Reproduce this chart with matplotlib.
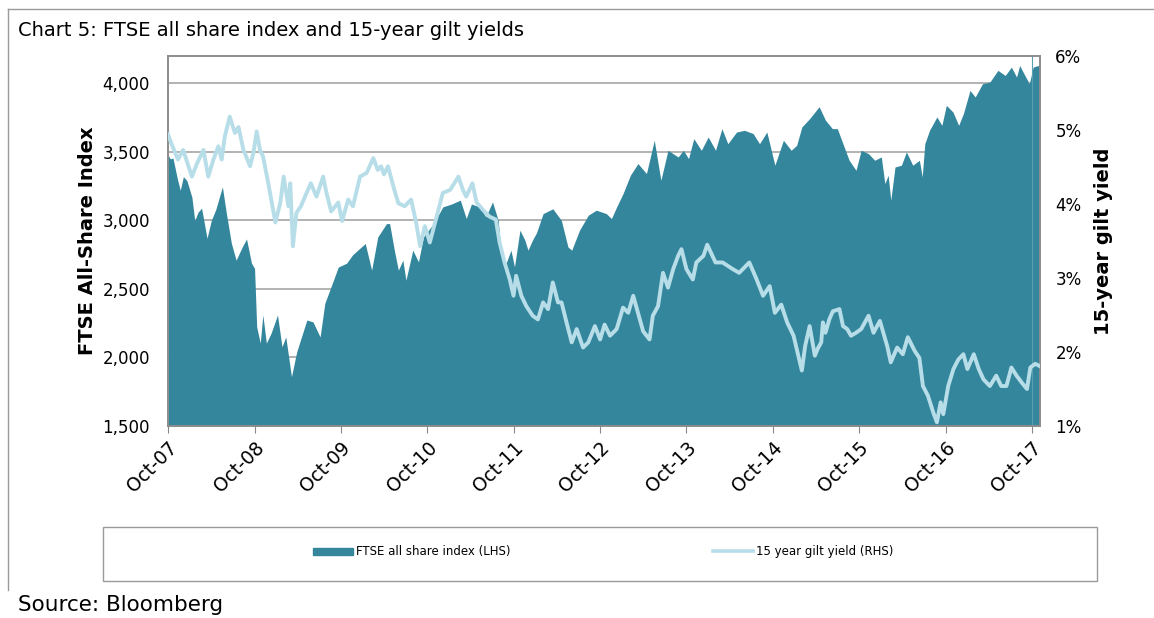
import pandas as pd
import matplotlib
matplotlib.use("Agg")
import matplotlib.pyplot as plt
import matplotlib.dates as mdates
from matplotlib.lines import Line2D
from matplotlib.patches import Patch, Rectangle

# FTSE all-share index (LHS)
ftse_dates = [
    "2007-10-01", "2007-10-10", "2007-10-22", "2007-11-10", "2007-11-22", "2007-12-05",
    "2007-12-20", "2008-01-10", "2008-01-22", "2008-02-05", "2008-02-20", "2008-03-14",
    "2008-04-01", "2008-04-20", "2008-05-18", "2008-06-04", "2008-06-25", "2008-07-15",
    "2008-08-10", "2008-08-28", "2008-09-18", "2008-10-01", "2008-10-10", "2008-10-25",
    "2008-11-05", "2008-11-20", "2008-12-10", "2009-01-06", "2009-01-25", "2009-02-10",
    "2009-03-06", "2009-03-28", "2009-05-10", "2009-06-05", "2009-07-05", "2009-07-25",
    "2009-08-20", "2009-09-20", "2009-10-25", "2009-11-20", "2010-01-12", "2010-02-08",
    "2010-03-06", "2010-04-12", "2010-04-25", "2010-05-15", "2010-06-01", "2010-06-20",
    "2010-07-03", "2010-08-01", "2010-08-25", "2010-09-15", "2010-10-28", "2010-12-06",
    "2011-01-12", "2011-02-18", "2011-03-15", "2011-04-06", "2011-05-10", "2011-06-06",
    "2011-07-04", "2011-07-28", "2011-08-09", "2011-08-30", "2011-09-20", "2011-10-05",
    "2011-10-28", "2011-11-18", "2011-12-01", "2011-12-20", "2012-01-06", "2012-02-03",
    "2012-03-15", "2012-04-20", "2012-05-18", "2012-06-03", "2012-07-06", "2012-08-12",
    "2012-09-15", "2012-10-27", "2012-11-18", "2012-12-10", "2013-01-06", "2013-02-06",
    "2013-03-10", "2013-04-15", "2013-05-18", "2013-06-15", "2013-07-15", "2013-08-27",
    "2013-09-18", "2013-10-10", "2013-11-01", "2013-12-03", "2014-01-01", "2014-02-01",
    "2014-02-28", "2014-03-25", "2014-05-01", "2014-06-03", "2014-07-10", "2014-08-06",
    "2014-09-06", "2014-10-10", "2014-11-15", "2014-12-18", "2015-01-10", "2015-02-01",
    "2015-03-06", "2015-04-15", "2015-05-12", "2015-06-10", "2015-07-01", "2015-08-20",
    "2015-09-18", "2015-10-10", "2015-11-10", "2015-12-06", "2016-01-03", "2016-01-18",
    "2016-02-01", "2016-02-12", "2016-03-01", "2016-03-28", "2016-04-18", "2016-05-15",
    "2016-06-12", "2016-06-24", "2016-07-05", "2016-07-25", "2016-08-25", "2016-09-15",
    "2016-10-04", "2016-11-01", "2016-11-25", "2016-12-15", "2017-01-12", "2017-02-03",
    "2017-03-06", "2017-04-06", "2017-05-10", "2017-06-10", "2017-07-06", "2017-07-28",
    "2017-08-10", "2017-09-01", "2017-09-20", "2017-10-06", "2017-10-28", "2017-11-03",
]
ftse_values = [
    3480, 3450, 3455, 3300, 3220, 3320,
    3290, 3170, 3000, 3060, 3090, 2870,
    3000, 3080, 3245, 3050, 2833, 2710,
    2807, 2865, 2688, 2650, 2224, 2105,
    2310, 2105, 2178, 2310, 2078, 2150,
    1860, 2040, 2273, 2260, 2150, 2395,
    2515, 2660, 2688, 2750, 2832, 2637,
    2880, 2977, 2977, 2783, 2637, 2710,
    2564, 2783, 2698, 2880, 2977, 3099,
    3120, 3148, 3014, 3120, 3099, 3026,
    3135, 3001, 2783, 2686, 2783, 2661,
    2929, 2856, 2783, 2856, 2910, 3050,
    3085, 3001, 2807, 2783, 2929, 3038,
    3075, 3050, 3014, 3099, 3196, 3330,
    3415, 3342, 3585, 3293, 3512, 3463,
    3512, 3451, 3597, 3512, 3609, 3512,
    3670, 3560, 3645, 3658, 3634, 3560,
    3645, 3403, 3585, 3512, 3548, 3682,
    3743, 3830, 3731, 3670, 3670, 3439,
    3366, 3512, 3487, 3439, 3463, 3269,
    3330, 3148, 3390, 3403, 3500, 3403,
    3439, 3318, 3560, 3658, 3755, 3694,
    3840, 3791, 3694, 3779, 3949, 3901,
    3998, 4010, 4095, 4058, 4119, 4046,
    4131, 4058, 3998, 4119, 4131, 4095,
]

# 15 year gilt yield (RHS), %
gilt_dates = [
    "2007-10-01", "2007-10-15", "2007-11-12", "2007-12-04", "2008-01-10", "2008-02-01",
    "2008-02-28", "2008-03-19", "2008-04-10", "2008-05-01", "2008-05-15", "2008-05-28",
    "2008-06-18", "2008-07-10", "2008-07-25", "2008-08-15", "2008-09-12", "2008-09-26",
    "2008-10-10", "2008-10-24", "2008-11-06", "2008-11-28", "2008-12-28", "2009-01-18",
    "2009-02-01", "2009-02-21", "2009-03-01", "2009-03-12", "2009-03-27", "2009-04-15",
    "2009-05-09", "2009-05-27", "2009-06-20", "2009-07-18", "2009-08-01", "2009-08-21",
    "2009-09-20", "2009-10-06", "2009-11-01", "2009-11-21", "2009-12-21", "2010-01-18",
    "2010-02-15", "2010-03-06", "2010-03-20", "2010-04-01", "2010-04-18", "2010-05-15",
    "2010-06-01", "2010-06-28", "2010-07-25", "2010-08-15", "2010-09-01", "2010-09-21",
    "2010-10-12", "2010-11-10", "2010-12-06", "2011-01-06", "2011-02-10", "2011-03-01",
    "2011-03-15", "2011-04-10", "2011-04-28", "2011-05-25", "2011-06-21", "2011-07-18",
    "2011-08-03", "2011-08-24", "2011-09-15", "2011-10-01", "2011-10-12", "2011-11-03",
    "2011-11-24", "2011-12-21", "2012-01-12", "2012-02-03", "2012-02-24", "2012-03-15",
    "2012-04-06", "2012-04-21", "2012-05-12", "2012-06-03", "2012-06-24", "2012-07-21",
    "2012-08-12", "2012-09-09", "2012-10-01", "2012-10-20", "2012-11-12", "2012-12-10",
    "2013-01-06", "2013-01-28", "2013-02-18", "2013-03-10", "2013-04-01", "2013-04-28",
    "2013-05-12", "2013-06-03", "2013-06-24", "2013-07-15", "2013-08-06", "2013-08-27",
    "2013-09-10", "2013-10-01", "2013-10-28", "2013-11-12", "2013-12-12", "2013-12-28",
    "2014-02-01", "2014-03-03", "2014-04-15", "2014-05-12", "2014-06-24", "2014-07-25",
    "2014-08-21", "2014-09-18", "2014-10-10", "2014-11-06", "2014-12-01", "2014-12-28",
    "2015-02-01", "2015-02-15", "2015-03-06", "2015-03-28", "2015-04-10", "2015-04-24",
    "2015-05-01", "2015-05-12", "2015-05-28", "2015-06-12", "2015-07-10", "2015-07-25",
    "2015-08-12", "2015-08-28", "2015-09-18", "2015-10-10", "2015-11-10", "2015-12-01",
    "2015-12-28", "2016-01-28", "2016-02-12", "2016-03-10", "2016-04-03", "2016-04-24",
    "2016-05-24", "2016-06-12", "2016-06-27", "2016-07-18", "2016-08-10", "2016-08-25",
    "2016-09-10", "2016-09-21", "2016-10-12", "2016-11-03", "2016-11-24", "2016-12-15",
    "2017-01-01", "2017-01-28", "2017-02-18", "2017-03-10", "2017-04-06", "2017-05-03",
    "2017-05-24", "2017-06-15", "2017-07-06", "2017-07-28", "2017-08-18", "2017-09-10",
    "2017-09-24", "2017-10-15", "2017-11-03",
]
gilt_values = [
    4.94, 4.82, 4.60, 4.73, 4.37, 4.55,
    4.73, 4.37, 4.60, 4.78, 4.60, 4.91,
    5.18, 4.96, 5.04, 4.73, 4.51, 4.69,
    4.98, 4.73, 4.64, 4.28, 3.75, 4.02,
    4.37, 3.97, 4.28, 3.43, 3.88, 3.97,
    4.15, 4.28, 4.10, 4.37, 4.15, 3.90,
    4.02, 3.77, 4.06, 3.97, 4.37, 4.42,
    4.62, 4.46, 4.51, 4.40, 4.51, 4.19,
    4.01, 3.97, 4.06, 3.75, 3.43, 3.70,
    3.48, 3.83, 4.15, 4.19, 4.37, 4.19,
    4.10, 4.28, 4.02, 3.92, 3.83, 3.79,
    3.48, 3.21, 2.98, 2.76, 3.03, 2.76,
    2.62, 2.49, 2.44, 2.67, 2.58, 2.94,
    2.67, 2.67, 2.40, 2.13, 2.31, 2.06,
    2.13, 2.35, 2.17, 2.37, 2.22, 2.31,
    2.60, 2.53, 2.76, 2.53, 2.28, 2.17,
    2.49, 2.62, 3.07, 2.87, 3.12, 3.30,
    3.39, 3.12, 2.98, 3.21, 3.30, 3.45,
    3.21, 3.21, 3.12, 3.07, 3.21, 2.98,
    2.76, 2.89, 2.53, 2.64, 2.40, 2.22,
    1.75, 2.08, 2.35, 1.95, 2.05, 2.13,
    2.40, 2.26, 2.44, 2.55, 2.58, 2.35,
    2.31, 2.22, 2.26, 2.31, 2.49, 2.26,
    2.42, 2.08, 1.86, 2.06, 1.97, 2.20,
    2.01, 1.92, 1.54, 1.41, 1.18, 1.05,
    1.32, 1.16, 1.54, 1.77, 1.90, 1.97,
    1.77, 1.97, 1.77, 1.63, 1.54, 1.68,
    1.54, 1.54, 1.79, 1.68, 1.59, 1.50,
    1.79, 1.84, 1.81,
]

tick_years = list(range(2007, 2018))

FTSE_COLOR = "#33869C"
GILT_COLOR = "#B7DEE8"
GRID_COLOR = "#A6A6A6"

plt.rcParams["font.family"] = ["DejaVu Sans"]

fig = plt.figure(figsize=(11.54, 6.18), dpi=100)
W, H = 1154, 618
ax = fig.add_axes([168 / W, 1 - 426 / H, (1040 - 168) / W, (426 - 56) / H])

fd = pd.to_datetime(ftse_dates)
gd = pd.to_datetime(gilt_dates)

ax.fill_between(fd, 1500, ftse_values, color=FTSE_COLOR, lw=0, zorder=2)
ax.set_ylim(1500, 4200)
ax.set_yticks([1500, 2000, 2500, 3000, 3500, 4000])
ax.yaxis.set_major_formatter(plt.FuncFormatter(lambda v, p: f"{int(v):,}"))
ax.grid(axis="y", color=GRID_COLOR, lw=1.2, zorder=1)
ax.set_axisbelow(True)
ax.set_xlim(pd.Timestamp("2007-10-01"), pd.Timestamp("2017-11-04"))
ax.set_xticks([pd.Timestamp(f"{y}-10-01") for y in tick_years])
ax.xaxis.set_major_formatter(mdates.DateFormatter("%b-%y"))
ax.tick_params(axis="x", length=5, color="#888888", labelsize=13.5, pad=4)
ax.tick_params(axis="y", length=0, labelsize=12, pad=13)
for lbl in ax.get_xticklabels():
    lbl.set_rotation(45)
    lbl.set_ha("right")
    lbl.set_rotation_mode("anchor")
ax.axvline(pd.Timestamp("2017-10-01"), color="#5A9FB2", lw=0.8, zorder=3)
ax.set_ylabel("FTSE All-Share Index", fontsize=14, fontweight="bold", labelpad=4)

ax2 = ax.twinx()
ax2.plot(gd, gilt_values, color=GILT_COLOR, lw=2.8, zorder=4)
ax2.set_ylim(1, 6)
ax2.set_yticks([1, 2, 3, 4, 5, 6])
ax2.yaxis.set_major_formatter(plt.FuncFormatter(lambda v, p: f"{int(v)}%"))
ax2.tick_params(axis="y", length=0, labelsize=12, pad=11)
ax2.set_ylabel("15-year gilt yield", fontsize=14, fontweight="bold", labelpad=9)

for a in (ax, ax2):
    for s in a.spines.values():
        s.set_color("#8C8C8C")
        s.set_linewidth(1.2)

# outer frame, title and source
fig.add_artist(Line2D([8 / W, 8 / W], [1 - 590 / H, 1 - 9 / H], color="#9A9A9A", lw=1.0))
fig.add_artist(Line2D([8 / W, 1.0], [1 - 9 / H, 1 - 9 / H], color="#9A9A9A", lw=1.0))
fig.text(18 / W, 1 - 30 / H, "Chart 5: FTSE all share index and 15-year gilt yields",
         fontsize=14, va="center", ha="left")
fig.text(18 / W, 1 - 605 / H, "Source: Bloomberg", fontsize=15.5, va="center", ha="left")

# legend box
fig.add_artist(Rectangle((103 / W, 1 - 581 / H), (1097 - 103) / W, (581 - 527) / H,
                         transform=fig.transFigure, fill=False, ec="#9A9A9A", lw=1.0))
leg_font = {"size": 8.5}
l1 = fig.legend([Patch(color=FTSE_COLOR)], ["FTSE all share index (LHS)"],
                loc="center left", bbox_to_anchor=(313 / W, 1 - 552 / H), frameon=False,
                prop=leg_font, handlelength=3.4, handleheight=0.6, handletextpad=0.2,
                borderpad=0, borderaxespad=0)
l2 = fig.legend([Line2D([], [], color=GILT_COLOR, lw=2.6)], ["15 year gilt yield (RHS)"],
                loc="center left", bbox_to_anchor=(713 / W, 1 - 552 / H), frameon=False,
                prop=leg_font, handlelength=3.4, handletextpad=0.2,
                borderpad=0, borderaxespad=0)

fig.savefig("out.png", dpi=100)
